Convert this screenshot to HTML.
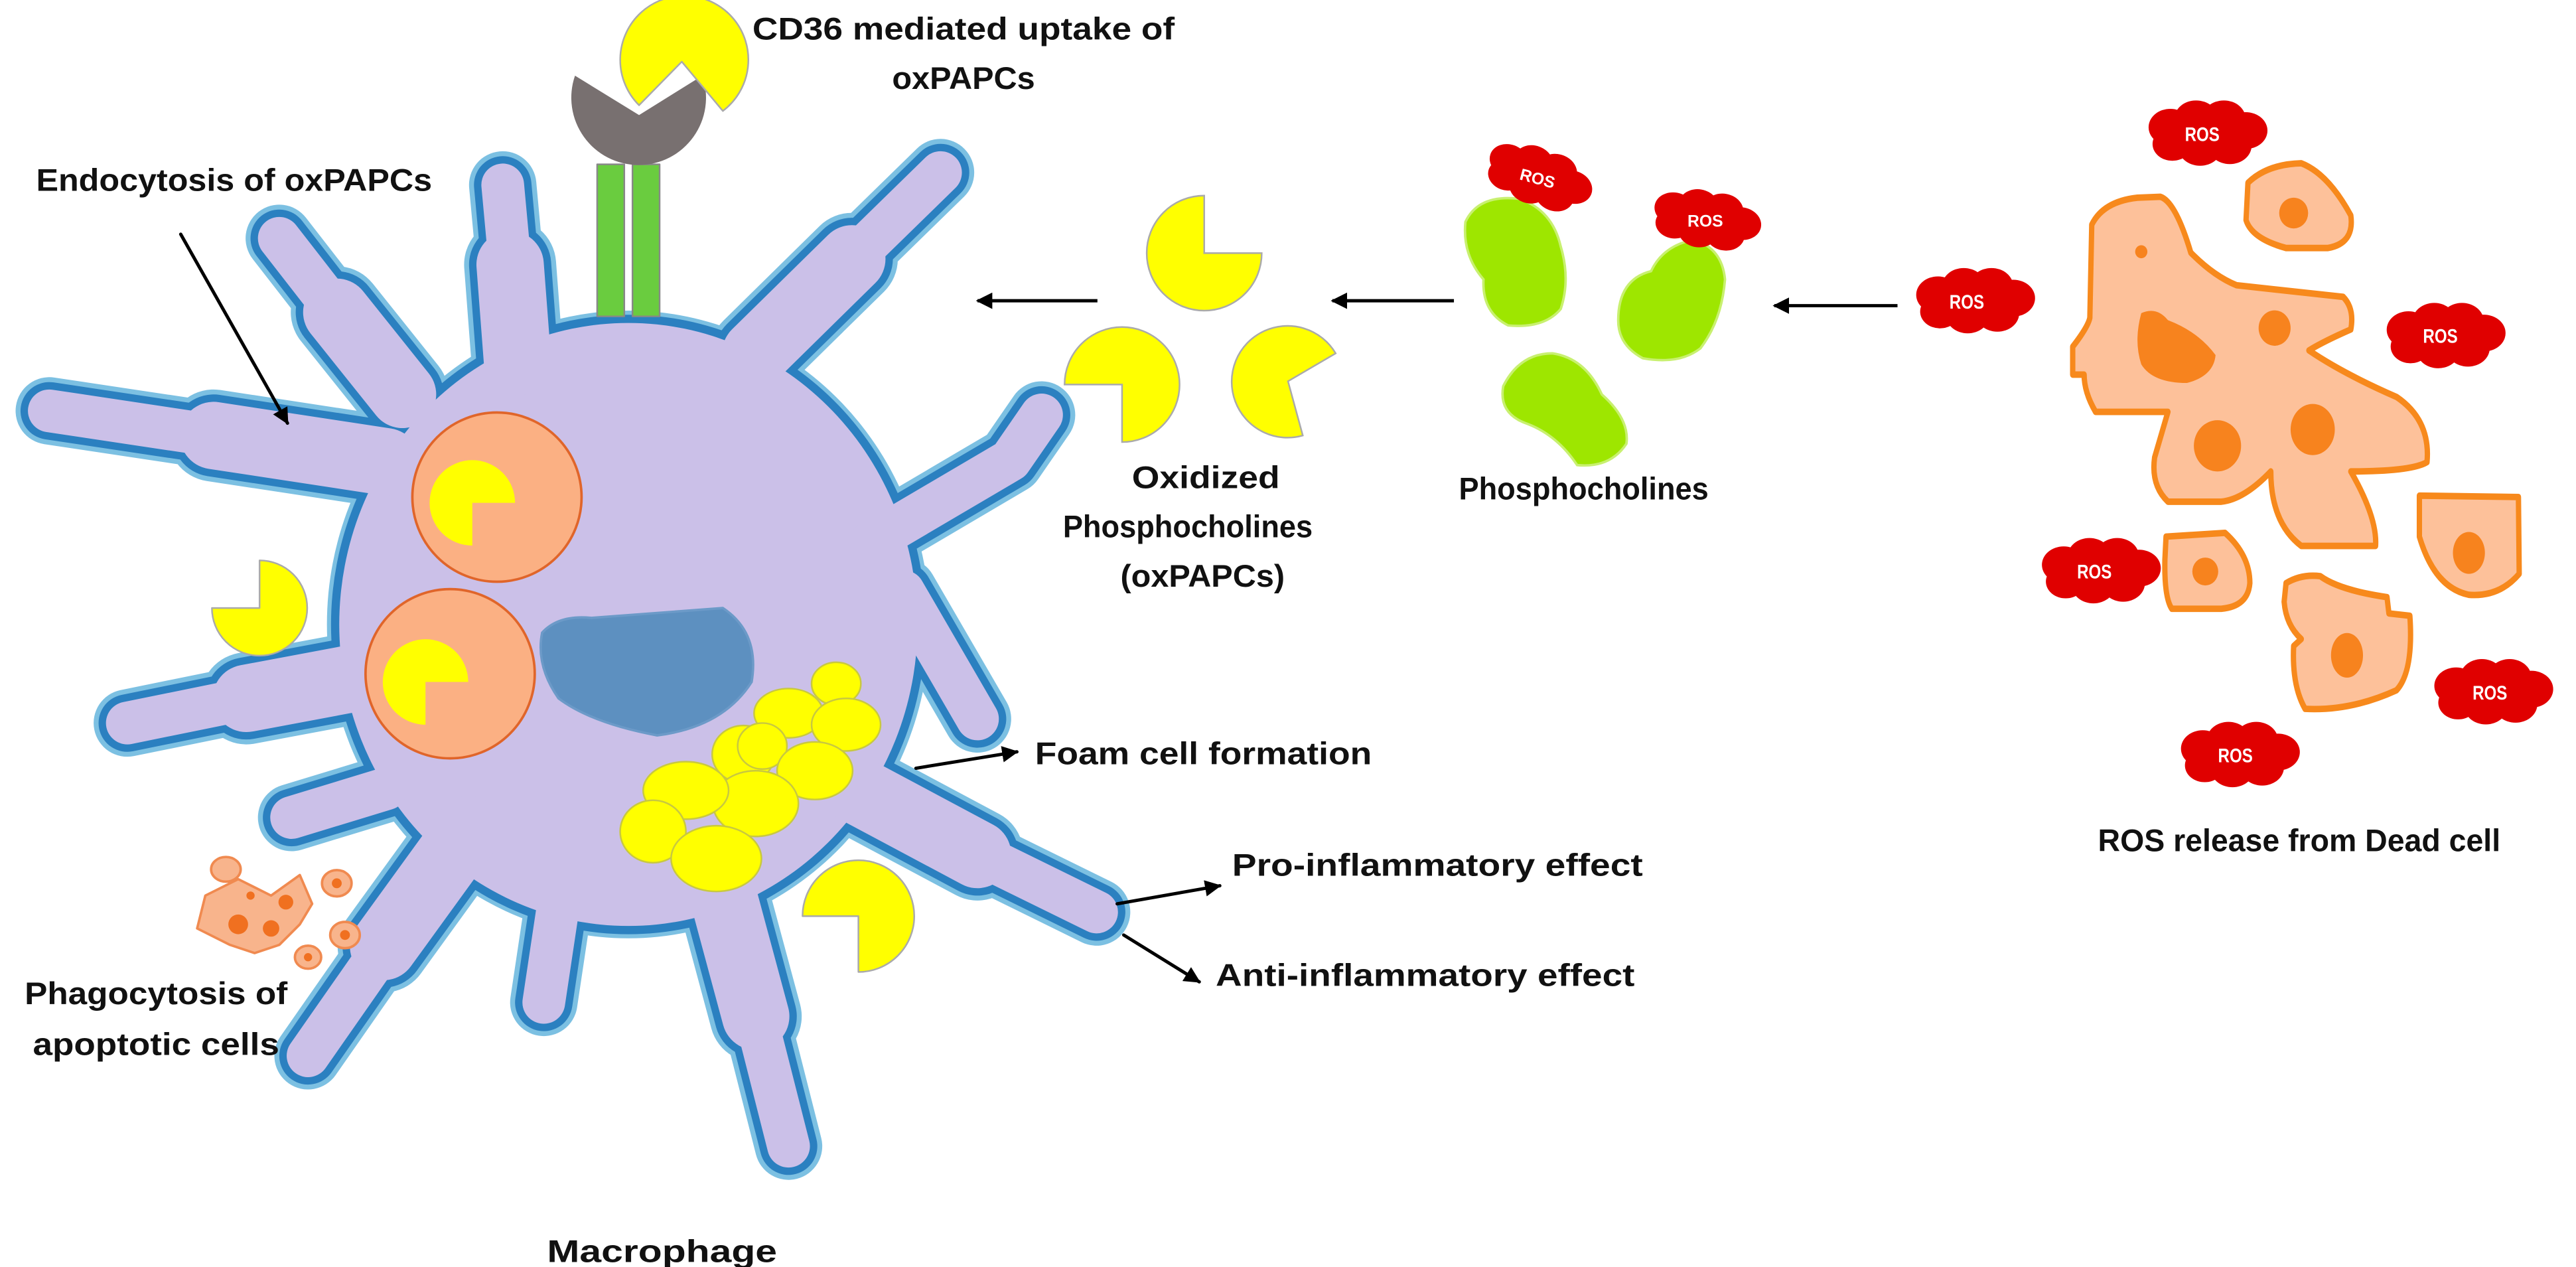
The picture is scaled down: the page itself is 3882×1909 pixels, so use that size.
<!DOCTYPE html>
<html><head><meta charset="utf-8"><style>
html,body{margin:0;padding:0;background:#fff}
svg{display:block}
text{font-family:"Liberation Sans",sans-serif;font-weight:bold;fill:#111}
</style></head><body>
<svg width="3882" height="1909" viewBox="0 0 1568 771" xmlns="http://www.w3.org/2000/svg">
<defs>
<marker id="ah" viewBox="0 0 10 10" refX="9" refY="5" markerWidth="5" markerHeight="5" orient="auto"><path d="M0,0 L10,5 L0,10 z" fill="#000"/></marker>
<g id="cloud">
<circle cx="-18" cy="-4" r="11"/><circle cx="-5" cy="-9" r="11"/><circle cx="9" cy="-9" r="11"/><circle cx="20" cy="-2" r="11"/><circle cx="12" cy="7" r="11"/><circle cx="-3" cy="8" r="11"/><circle cx="-17" cy="6" r="10"/>
</g>
<g id="arms">
   <polyline points="460,560 60,500"/><polyline points="480,470 340,290"/><polyline points="630,420 612,225"/>
   <polyline points="930,420 1145,210"/><polyline points="1060,660 1230,560 1268,505"/><polyline points="1100,720 1190,875"/>
   <polyline points="1050,970 1335,1110"/><polyline points="880,1080 960,1395"/><polyline points="680,1100 662,1220"/>
   <polyline points="560,1020 375,1285"/><polyline points="450,820 155,880"/><polyline points="470,960 355,995"/>
</g>
<g id="bases">
   <polyline points="470,562 260,530"/><polyline points="490,480 410,380"/><polyline points="630,440 621,322"/>
   <polyline points="920,430 1037,315"/><polyline points="1040,960 1190,1040"/><polyline points="875,1070 920,1237"/>
   <polyline points="570,1010 467,1152"/><polyline points="460,820 300,850"/>
</g>
</defs>

<!-- Macrophage in zoom1 coords (x0.5) -->
<g transform="scale(0.5)" stroke-linecap="round" stroke-linejoin="round" fill="none">
 <g stroke="#7cc0e2">
  <ellipse cx="765" cy="760" rx="367" ry="382" fill="#7cc0e2" stroke="none"/>
  <use href="#arms" stroke-width="82"/><use href="#bases" stroke-width="112"/>
 </g>
 <g stroke="#2b80c0">
  <ellipse cx="765" cy="760" rx="362" ry="377" fill="#2b80c0" stroke="none"/>
  <use href="#arms" stroke-width="70"/><use href="#bases" stroke-width="100"/>
 </g>
 <g stroke="#cbc0e8">
  <ellipse cx="765" cy="760" rx="352" ry="367" fill="#cbc0e8" stroke="none"/>
  <use href="#arms" stroke-width="52"/><use href="#bases" stroke-width="82"/>
 </g>
 <!-- receptor -->
 <rect x="727" y="200" width="33" height="185" fill="#6acc3f" stroke="#888" stroke-width="2"/>
 <rect x="770" y="200" width="33" height="185" fill="#6acc3f" stroke="#888" stroke-width="2"/>
 <path d="M778,140 L700,92 A82,82 0 1 0 855,92 Z" fill="#787070"/>
 <path d="M830,75 L778,128 A78,78 0 1 1 880,135 Z" fill="#ffff00" stroke="#aaa" stroke-width="2"/>
 <!-- vesicles -->
 <circle cx="605" cy="605" r="103" fill="#fbb083" stroke="#e0652a" stroke-width="3"/>
 <circle cx="548" cy="820" r="103" fill="#fbb083" stroke="#e0652a" stroke-width="3"/>
 <path d="M575,612 L575,664 A52,52 0 1 1 627,612 Z" fill="#ffff00"/>
 <path d="M518,830 L518,882 A52,52 0 1 1 570,830 Z" fill="#ffff00"/>
 <!-- nucleus -->
 <path d="M660,770 Q680,748 720,752 L880,740 Q925,770 915,830 Q880,885 800,895 Q720,880 680,850 Q652,810 660,770 Z" fill="#5d90c0" stroke="#6c9ac8" stroke-width="3"/>
 <!-- lipids -->
 <g fill="#ffff00" stroke="#c8c840" stroke-width="2">
  <ellipse cx="1018" cy="832" rx="30" ry="26"/><ellipse cx="960" cy="868" rx="42" ry="30"/><ellipse cx="1030" cy="882" rx="42" ry="32"/>
  <ellipse cx="905" cy="918" rx="38" ry="35"/><ellipse cx="928" cy="908" rx="30" ry="28"/><ellipse cx="992" cy="938" rx="46" ry="35"/>
  <ellipse cx="920" cy="978" rx="52" ry="40"/><ellipse cx="835" cy="962" rx="52" ry="35"/><ellipse cx="795" cy="1012" rx="40" ry="38"/>
  <ellipse cx="872" cy="1045" rx="55" ry="40"/>
 </g>
 <!-- free pacmen -->
 <path d="M316,740 L258,740 A58,58 0 1 0 316,682 Z" fill="#ffff00" stroke="#aaa" stroke-width="2"/>
 <path d="M1045,1115 L977,1115 A68,68 0 1 1 1045,1183 Z" fill="#ffff00" stroke="#aaa" stroke-width="2"/>
 <!-- apoptotic cells -->
 <g fill="#f8b48c" stroke="#f08a50" stroke-width="3">
  <path d="M250,1090 L290,1070 L330,1090 L365,1065 L380,1100 L365,1125 L340,1150 L310,1160 L280,1150 L240,1130 Z"/>
  <ellipse cx="275" cy="1058" rx="18" ry="15"/><ellipse cx="410" cy="1075" rx="18" ry="16"/>
  <ellipse cx="420" cy="1138" rx="18" ry="16"/><ellipse cx="375" cy="1165" rx="16" ry="14"/>
 </g>
 <g fill="#f07020"><circle cx="290" cy="1125" r="12"/><circle cx="330" cy="1130" r="10"/><circle cx="348" cy="1098" r="9"/><circle cx="410" cy="1075" r="6"/><circle cx="420" cy="1138" r="6"/><circle cx="375" cy="1165" r="5"/><circle cx="305" cy="1090" r="5"/></g>
 <!-- arrows -->
 <g stroke="#000" stroke-width="4" marker-end="url(#ah)">
  <line x1="220" y1="285" x2="350" y2="515"/>
  <line x1="1115" y1="935" x2="1238" y2="915"/>
  <line x1="1360" y1="1100" x2="1485" y2="1078"/>
  <line x1="1368" y1="1138" x2="1460" y2="1195"/>
 </g>
</g>

<!-- middle arrows -->
<g stroke="#000" stroke-width="2" marker-end="url(#ah)">
 <line x1="668" y1="183" x2="595" y2="183"/>
 <line x1="885" y1="183" x2="811" y2="183"/>
 <line x1="1155" y1="186" x2="1080" y2="186"/>
</g>

<!-- oxidized pacmen -->
<g fill="#ffff00" stroke="#aaa" stroke-width="1">
 <path d="M733,154 L768,154 A35,35 0 1 1 733,119 Z"/>
 <path d="M683,234 L648,234 A35,35 0 1 1 683,269 Z"/>
 <path d="M784,232 L793,265 A34,34 0 1 1 813,215 Z"/>
</g>

<!-- phosphocholines -->
<g fill="#9ee600" stroke="#c8f070" stroke-width="1.5">
 <path d="M892,135 Q900,118 925,121 Q945,128 950,150 Q956,170 950,188 Q940,200 918,198 Q902,190 903,170 Q890,155 892,135 Z"/>
 <path d="M985,195 Q985,170 1005,165 Q1012,150 1030,146 Q1048,150 1050,170 Q1048,195 1035,212 Q1022,222 1000,218 Q985,210 985,195 Z"/>
 <path d="M915,235 Q925,215 945,215 Q965,218 975,240 Q992,255 990,270 Q980,285 960,283 Q948,265 930,258 Q912,252 915,235 Z"/>
</g>

<!-- ROS near phosphocholines -->
<g fill="#e00000">
 <use href="#cloud" transform="translate(936,108) rotate(20) scale(1.1 0.9)"/>
 <use href="#cloud" transform="translate(1038,134) rotate(10) scale(1.1 0.9)"/>
 <use href="#cloud" transform="translate(1197,182) scale(0.95 0.8)"/>
</g>
<g font-size="10" text-anchor="middle">
 <text x="936" y="112" transform="rotate(15 936 108)" style="fill:#fff">ROS</text>
 <text x="1038" y="138" style="fill:#fff">ROS</text>
 <text x="1197" y="186" style="fill:#fff">ROS</text>
</g>

<!-- Dead cells -->
<g transform="translate(1171.2,40.4) scale(0.2319,0.2833)">
 <g fill="#fdc19a" stroke="#f7891c" stroke-width="14" stroke-linejoin="round">
  <path d="M440,340 Q470,290 560,282 L620,280 Q660,290 700,400 Q760,450 820,470 L1100,495 Q1130,520 1120,565 Q1050,590 1010,610 Q1100,660 1240,710 Q1330,760 1320,850 Q1280,870 1120,870 Q1190,970 1185,1030 L990,1030 Q910,980 910,870 Q840,930 780,935 L640,935 Q595,900 605,840 L640,742 L450,742 Q420,700 420,662 L390,662 L390,602 Q430,560 435,540 Z"/>
  <path d="M850,250 Q900,210 990,208 Q1060,230 1120,320 Q1130,380 1060,390 L950,390 Q860,370 845,330 Z"/>
  <path d="M635,1010 L790,1002 Q855,1050 855,1110 Q850,1160 780,1165 L650,1165 Q630,1140 632,1060 Z"/>
  <path d="M1300,922 L1560,925 L1562,1090 Q1510,1140 1430,1135 Q1340,1120 1300,1010 Z"/>
  <path d="M950,1110 Q990,1090 1040,1095 Q1090,1125 1215,1140 L1220,1175 L1275,1180 Q1285,1300 1240,1340 Q1120,1385 1000,1380 Q965,1330 970,1245 L990,1230 Q950,1200 945,1150 Z"/>
 </g>
 <g fill="#f7831e">
  <path d="M570,530 Q610,515 640,545 Q720,570 765,620 Q760,665 690,680 Q600,680 570,640 Q550,590 570,530 Z"/>
  <ellipse cx="920" cy="562" rx="42" ry="38"/><ellipse cx="770" cy="815" rx="62" ry="55"/><ellipse cx="1020" cy="780" rx="58" ry="55"/><ellipse cx="570" cy="398" rx="16" ry="14"/>
  <ellipse cx="970" cy="315" rx="38" ry="33"/><ellipse cx="738" cy="1085" rx="34" ry="30"/><ellipse cx="1430" cy="1045" rx="42" ry="45"/><ellipse cx="1110" cy="1265" rx="42" ry="48"/>
 </g>
 <g fill="#e00000">
  <use href="#cloud" transform="translate(740,145) scale(5.2 3.6)"/>
  <use href="#cloud" transform="translate(130,505) scale(5.2 3.6)"/>
  <use href="#cloud" transform="translate(1365,580) scale(5.2 3.6)"/>
  <use href="#cloud" transform="translate(460,1085) scale(5.2 3.6)"/>
  <use href="#cloud" transform="translate(1490,1345) scale(5.2 3.6)"/>
  <use href="#cloud" transform="translate(825,1480) scale(5.2 3.6)"/>
 </g>
 <g font-size="42" text-anchor="middle">
  <text x="730" y="160" style="fill:#fff">ROS</text><text x="112" y="520" style="fill:#fff">ROS</text>
  <text x="1355" y="594" style="fill:#fff">ROS</text><text x="447" y="1100" style="fill:#fff">ROS</text>
  <text x="1485" y="1360" style="fill:#fff">ROS</text><text x="817" y="1495" style="fill:#fff">ROS</text>
 </g>
</g>

<!-- labels -->
<g font-size="19">
 <text x="458" y="24" textLength="257" lengthAdjust="spacingAndGlyphs">CD36 mediated uptake of</text>
 <text x="543" y="54" textLength="87" lengthAdjust="spacingAndGlyphs">oxPAPCs</text>
 <text x="22" y="116" textLength="241" lengthAdjust="spacingAndGlyphs">Endocytosis of oxPAPCs</text>
 <text x="689" y="297" textLength="90" lengthAdjust="spacingAndGlyphs">Oxidized</text>
 <text x="647" y="327" textLength="152" lengthAdjust="spacingAndGlyphs">Phosphocholines</text>
 <text x="682" y="357" textLength="100" lengthAdjust="spacingAndGlyphs">(oxPAPCs)</text>
 <text x="888" y="304" textLength="152" lengthAdjust="spacingAndGlyphs">Phosphocholines</text>
 <text x="630" y="465" textLength="205" lengthAdjust="spacingAndGlyphs">Foam cell formation</text>
 <text x="750" y="533" textLength="250" lengthAdjust="spacingAndGlyphs">Pro-inflammatory effect</text>
 <text x="740" y="600" textLength="255" lengthAdjust="spacingAndGlyphs">Anti-inflammatory effect</text>
 <text x="15" y="611" textLength="160" lengthAdjust="spacingAndGlyphs">Phagocytosis of</text>
 <text x="20" y="642" textLength="150" lengthAdjust="spacingAndGlyphs">apoptotic cells</text>
 <text x="333" y="768" textLength="140" lengthAdjust="spacingAndGlyphs">Macrophage</text>
 <text x="1277" y="518" textLength="245" lengthAdjust="spacingAndGlyphs">ROS release from Dead cell</text>
</g>
</svg>
</body></html>
